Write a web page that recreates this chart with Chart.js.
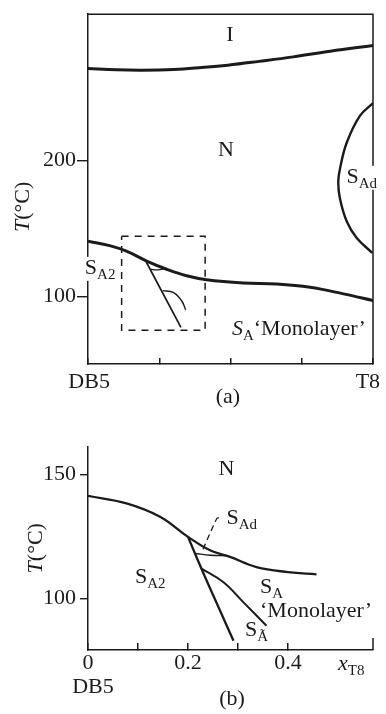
<!DOCTYPE html>
<html>
<head>
<meta charset="utf-8">
<title>DB5 + T8 phase diagram</title>
<script src="https://cdn.jsdelivr.net/npm/chart.js@4.4.1/dist/chart.umd.min.js"></script>
<style>
  html, body { margin: 0; padding: 0; background: #fff; }
  #wrap { position: relative; width: 386px; height: 714px; overflow: hidden; }
  canvas { position: absolute; left: 0; }
  #chartA { top: 0; }
  #chartB { top: 420px; }
</style>
</head>
<body>
<div id="wrap">
  <canvas id="chartA" width="386" height="420"></canvas>
  <canvas id="chartB" width="386" height="294"></canvas>
</div>
<script>
const ink = "#1b1b1b";
const serif = '"Liberation Serif", "Times New Roman", serif';

// ---- (a) whole DB5 -> T8 range, x = mole fraction of T8 ----
const xTicksA = [0, 0.25, 0.5, 0.75, 1];
const yTicksA = [100, 200];

// isotropic / nematic boundary
const xIsoA = [0, 0.1, 0.19, 0.3, 0.4, 0.49, 0.6, 0.72, 0.85, 1];
const tIsoA = [267.8, 266.8, 266.5, 267, 268.5, 270.2, 273, 276.3, 280.5, 284.7];

// nematic / smectic A boundary
const xNemA = [0, 0.076, 0.135, 0.206, 0.276, 0.346, 0.416, 0.545, 0.662, 0.779, 0.896, 1];
const tNemA = [140.7, 137.5, 133.4, 126.1, 120.1, 115.3, 112.4, 110, 109.2, 106.8, 102, 97.1];

// S_Ad dome near pure T8
const xDomeA = [1.0, 0.954, 0.908, 0.884, 0.878, 0.884, 0.908, 0.943, 0.997];
const tDomeA = [242.3, 232.9, 213.3, 193.9, 184.2, 172.1, 155.2, 143.1, 132.2];

// S_A2 limit, small S_Ad lens and S_A / S_A~ branch
const xSteepA = [0.204, 0.326];
const tSteepA = [125.6, 77.3];
const xLensA = [0.218, 0.245, 0.272];
const tLensA = [120.1, 119.7, 120.5];
const xArcA = [0.262, 0.299, 0.328, 0.343];
const tArcA = [104.4, 103.1, 97.1, 90.3];

// inset frame (enlarged below)
const xBoxA = [0.118, 0.411, 0.411, 0.118, 0.118];
const tBoxA = [144.3, 144.3, 75.3, 75.3, 144.3];

// ---- (b) DB5-rich end ----
const xTicksB = [0, 0.1, 0.2, 0.3, 0.4];
const xLabelsB = [0, 0.2, 0.4];
const yTicksB = [100, 150];

const xNemB = [0, 0.077, 0.144, 0.2, 0.244, 0.284, 0.337, 0.4, 0.457];
const tNemB = [141.3, 138.3, 132.9, 124.8, 119.4, 116.7, 112.6, 110.6, 109.7];
const xSteepB = [0.2, 0.231, 0.264, 0.291];
const tSteepB = [124.8, 110, 95.1, 82.9];
const xMonoB = [0.227, 0.271, 0.311, 0.357];
const tMonoB = [112, 106.5, 98.4, 89];
const xLensB = [0.214, 0.245, 0.277];
const tLensB = [118.1, 117.4, 117.2];
const xLeadB = [0.23, 0.254, 0.258, 0.268];
const tLeadB = [119.8, 130.8, 132.3, 133];

function pts(xs, ts) {
    return xs.map((x, i) => ({ x, y: ts[i] }));
}

function curve(xs, ts, width, extra) {
    return Object.assign({
        data: pts(xs, ts),
        showLine: true,
        borderColor: ink,
        borderWidth: width,
        pointRadius: 0,
        tension: 0.4,
        fill: false
    }, extra || {});
}

// text pieces: [text, 'r' | 'i' | 'sub']
function drawParts(ctx, px, py, parts, align, bg) {
    const fonts = {
        r: `22px ${serif}`,
        i: `italic 22px ${serif}`,
        sub: `15px ${serif}`
    };
    const widths = parts.map(([t, s]) => {
        ctx.font = fonts[s];
        return ctx.measureText(t).width;
    });
    const total = widths.reduce((a, b) => a + b, 0);
    let cx = align === "center" ? px - total / 2 : align === "right" ? px - total : px;
    if (bg) {
        ctx.fillStyle = "#fff";
        ctx.fillRect(cx - 2, py - 17, total + 4, 24);
    }
    ctx.fillStyle = ink;
    ctx.textAlign = "left";
    ctx.textBaseline = "alphabetic";
    parts.forEach(([t, s], i) => {
        ctx.font = fonts[s];
        ctx.fillText(t, cx, py + (s === "sub" ? 5 : 0));
        cx += widths[i];
    });
}

// labels, frame and axis end marks
function textLayer(items, extras) {
    return {
        id: "textLayer",
        afterDraw(chart) {
            const { ctx, chartArea: area, scales } = chart;
            ctx.save();
            ctx.strokeStyle = ink;
            ctx.lineWidth = 1.5;
            if (extras.frame) {
                ctx.beginPath();
                ctx.moveTo(area.left, area.top);
                ctx.lineTo(area.right, area.top);
                ctx.lineTo(area.right, area.bottom);
                ctx.stroke();
            }
            if (extras.endMark) {
                ctx.beginPath();
                ctx.moveTo(area.right, area.bottom);
                ctx.lineTo(area.right, area.bottom - 12);
                ctx.stroke();
            }
            items.forEach(it => {
                const px = it.ox != null ? area.left + it.ox : scales.x.getPixelForValue(it.x);
                const py = it.oy != null ? area.bottom + it.oy : scales.y.getPixelForValue(it.y);
                if (it.rotate) {
                    ctx.save();
                    ctx.translate(px, py);
                    ctx.rotate(-Math.PI / 2);
                    drawParts(ctx, 0, 7, it.parts, "center", false);
                    ctx.restore();
                } else {
                    drawParts(ctx, px, py, it.parts, it.align || "left", it.bg);
                }
            });
            ctx.restore();
        }
    };
}

function axisStyle(tickLength, lineWidth) {
    return {
        grid: { drawOnChartArea: false, drawTicks: true, tickLength, color: ink, lineWidth },
        border: { display: true, color: ink, width: 1.5 }
    };
}

const tickFont = { family: serif, size: 22 };

// ---------- panel (a) ----------
new Chart(document.getElementById("chartA"), {
    type: "scatter",
    data: {
        datasets: [
            curve(xIsoA, tIsoA, 3),
            curve(xNemA, tNemA, 3),
            curve(xDomeA, tDomeA, 2.4),
            curve(xSteepA, tSteepA, 1.7, { tension: 0 }),
            curve(xLensA, tLensA, 1.3),
            curve(xArcA, tArcA, 1.4),
            curve(xBoxA, tBoxA, 1.5, { tension: 0, borderDash: [7, 6] })
        ]
    },
    options: {
        responsive: false,
        animation: false,
        devicePixelRatio: 1,
        layout: { padding: { top: 10, right: 13, left: 0, bottom: 0 } },
        plugins: { legend: { display: false }, tooltip: { enabled: false } },
        scales: {
            x: {
                type: "linear", min: 0, max: 1,
                afterBuildTicks: s => { s.ticks = xTicksA.map(v => ({ value: v })); },
                afterFit: s => { s.height = 56; },
                ticks: { callback: () => "", autoSkip: false, maxRotation: 0 },
                ...axisStyle(-6, 1.5)
            },
            y: {
                type: "linear", min: 50.4, max: 307.7,
                afterBuildTicks: s => { s.ticks = yTicksA.map(v => ({ value: v })); },
                afterFit: s => { s.width = 88; },
                ticks: { color: ink, font: tickFont, padding: 1, callback: v => String(v) },
                ...axisStyle(11, 1.4)
            }
        }
    },
    plugins: [textLayer([
        { x: 0.498, y: 288.3, parts: [["I", "r"]], align: "center" },
        { x: 0.484, y: 203.1, parts: [["N", "r"]], align: "center" },
        { x: 0.907, y: 183.7, parts: [["S", "r"], ["Ad", "sub"]], bg: true },
        { x: -0.011, y: 116.7, parts: [["S", "r"], ["A2", "sub"]], bg: true },
        { x: 0.505, y: 71.6, parts: [["S", "i"], ["A", "sub"], ["\u2018Monolayer\u2019", "r"]] },
        { x: 0.004, oy: 24, parts: [["DB5", "r"]], align: "center" },
        { x: 0.982, oy: 24, parts: [["T8", "r"]], align: "center" },
        { x: 0.491, oy: 39, parts: [["(a)", "r"]], align: "center" },
        { ox: -66, y: 166, parts: [["T", "i"], ["(\u00b0C)", "r"]], rotate: true }
    ], { frame: true })]
});

// ---------- panel (b) ----------
new Chart(document.getElementById("chartB"), {
    type: "scatter",
    data: {
        datasets: [
            curve(xNemB, tNemB, 2.3),
            curve(xSteepB, tSteepB, 2.3, { tension: 0.2 }),
            curve(xMonoB, tMonoB, 2),
            curve(xLensB, tLensB, 1.4),
            curve(xLeadB, tLeadB, 1.3, { tension: 0, borderDash: [6, 4] })
        ]
    },
    options: {
        responsive: false,
        animation: false,
        devicePixelRatio: 1,
        layout: { padding: { top: 27, right: 13, left: 0, bottom: 0 } },
        plugins: { legend: { display: false }, tooltip: { enabled: false } },
        scales: {
            x: {
                type: "linear", min: 0, max: 0.57,
                afterBuildTicks: s => { s.ticks = xTicksB.map(v => ({ value: v })); },
                afterFit: s => { s.height = 64; },
                ticks: {
                    color: ink, font: tickFont, padding: 7, autoSkip: false, maxRotation: 0,
                    callback: v => (xLabelsB.includes(v) ? String(v) : "")
                },
                ...axisStyle(-7, 1.5)
            },
            y: {
                type: "linear", min: 79.2, max: 161,
                afterBuildTicks: s => { s.ticks = yTicksB.map(v => ({ value: v })); },
                afterFit: s => { s.width = 88; },
                ticks: { color: ink, font: tickFont, padding: 4, callback: v => String(v) },
                ...axisStyle(8, 1.4)
            }
        }
    },
    plugins: [textLayer([
        { x: 0.277, y: 149.8, parts: [["N", "r"]], align: "center" },
        { x: 0.277, y: 129.9, parts: [["S", "r"], ["Ad", "sub"]] },
        { x: 0.094, y: 106, parts: [["S", "r"], ["A2", "sub"]] },
        { x: 0.344, y: 102, parts: [["S", "r"], ["A", "sub"]] },
        { x: 0.344, y: 92.6, parts: [["\u2018Monolayer\u2019", "r"]] },
        { x: 0.314, y: 84.9, parts: [["S", "r"], ["\u00c3", "sub"]] },
        { x: 0.5, oy: 20, parts: [["x", "i"], ["T8", "sub"]] },
        { x: 0.01, oy: 43, parts: [["DB5", "r"]], align: "center" },
        { x: 0.288, oy: 55, parts: [["(b)", "r"]], align: "center" },
        { ox: -53, y: 120.2, parts: [["T", "i"], ["(\u00b0C)", "r"]], rotate: true }
    ], { endMark: true })]
});
</script>
</body>
</html>
